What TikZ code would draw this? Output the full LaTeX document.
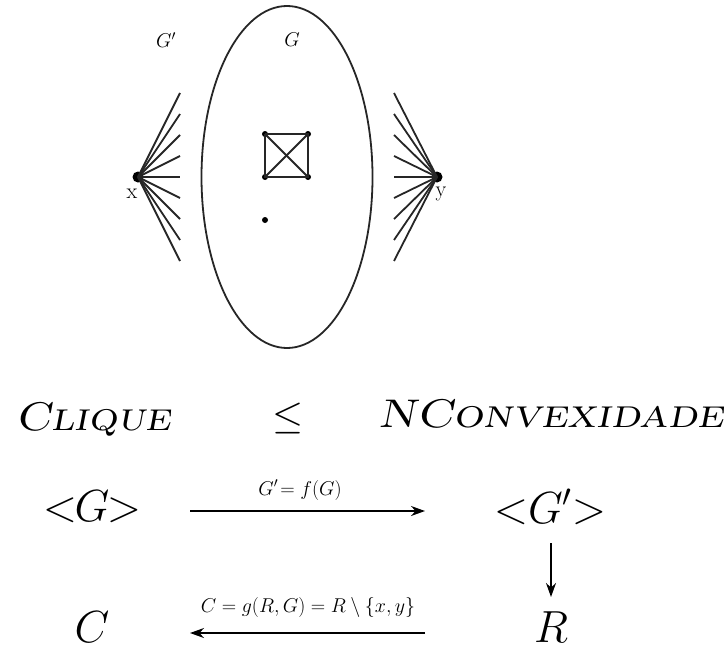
\RequirePackage{fix-cm}
\documentclass[tikz,border=0pt]{standalone}
\usepackage{graphicx}
\usetikzlibrary{arrows.meta}
\begin{document}
\begin{tikzpicture}[x=1pt,y=-1pt,
  thin line/.style={line width=1.8pt,black!85},
  bigdot/.style={circle,fill=black,inner sep=0pt,minimum size=11pt},
  smalldot/.style={circle,fill=black,inner sep=0pt,minimum size=6pt},
  arr/.style={line width=1.7pt,-{Stealth[length=14pt,width=10pt]}},
  big/.style={font=\fontsize{45}{48}\selectfont,inner sep=0pt},
  lbl/.style={font=\fontsize{20}{22}\selectfont,inner sep=0pt},
  head/.style={font=\fontsize{40}{42}\selectfont,inner sep=0pt}]
\useasboundingbox (0,0) rectangle (727,650);
% ellipse G
\draw[thin line] (287,177) ellipse [x radius=85.5, y radius=171];
% x and y vertices
\node[bigdot] (x) at (138,177) {};
\node[bigdot] (y) at (437,177) {};
\foreach \i/\yy in {1/93,2/114,3/135,4/156,5/177,6/198,7/219,8/240,9/261}{
  \coordinate (l\i) at (180,\yy);
  \coordinate (r\i) at (394,\yy);
  \draw[thin line] (x.center) -- (l\i);
  \draw[thin line] (y.center) -- (r\i);
}
% K4
\node[smalldot] (k1) at (265,134) {};
\node[smalldot] (k2) at (308,134) {};
\node[smalldot] (k3) at (265,177) {};
\node[smalldot] (k4) at (308,177) {};
\draw[thin line] (k1.center) -- (k2.center) -- (k4.center) -- (k3.center) -- (k1.center);
\draw[thin line] (k1.center) -- (k4.center);
\draw[thin line] (k2.center) -- (k3.center);
\node[smalldot] (iso) at (265,220) {};
% labels
\node[lbl] (Gp) at (166,40) {$G'$};
\node[lbl] (G) at (292,40) {$G$};
\node[lbl,font=\fontsize{22}{24}\selectfont] (xl) at (132,194) {x};
\node[lbl,font=\fontsize{22}{24}\selectfont] (yl) at (441,194) {y};
% heading
\node[head,anchor=base west] (clique) at (15,430) {\scalebox{1.14}[1]{\itshape\scshape Clique}};
\node[head] (leq) at (288,418) {$\leq$};
\node[head,anchor=base west] (ncv) at (378,427) {\scalebox{1.18}[1]{\itshape\scshape NConvexidade}};
% diagram
\node[big] (gl) at (92,507) {${<}\mkern-1mu G\mkern-1mu{>}$};
\node[big] (gpr) at (550,507) {${<}G'{>}$};
\node[big] (c) at (92,627) {$C$};
\node[big] (r) at (551,627) {$R$};
\coordinate (a1s) at (190,511);
\coordinate (a1e) at (425,511);
\coordinate (a2s) at (551,543);
\coordinate (a2e) at (551,597);
\coordinate (a3s) at (425,633);
\coordinate (a3e) at (190,633);
\draw[arr] (a1s) -- (a1e);
\draw[arr] (a2s) -- (a2e);
\draw[arr] (a3s) -- (a3e);
\node[lbl,anchor=base] (f) at (300,495) {$G'\!= f(G)$};
\node[lbl,anchor=base] (g) at (308,612) {$C = g(R,G) = R\setminus\{x,y\}$};
\end{tikzpicture}
\end{document}
